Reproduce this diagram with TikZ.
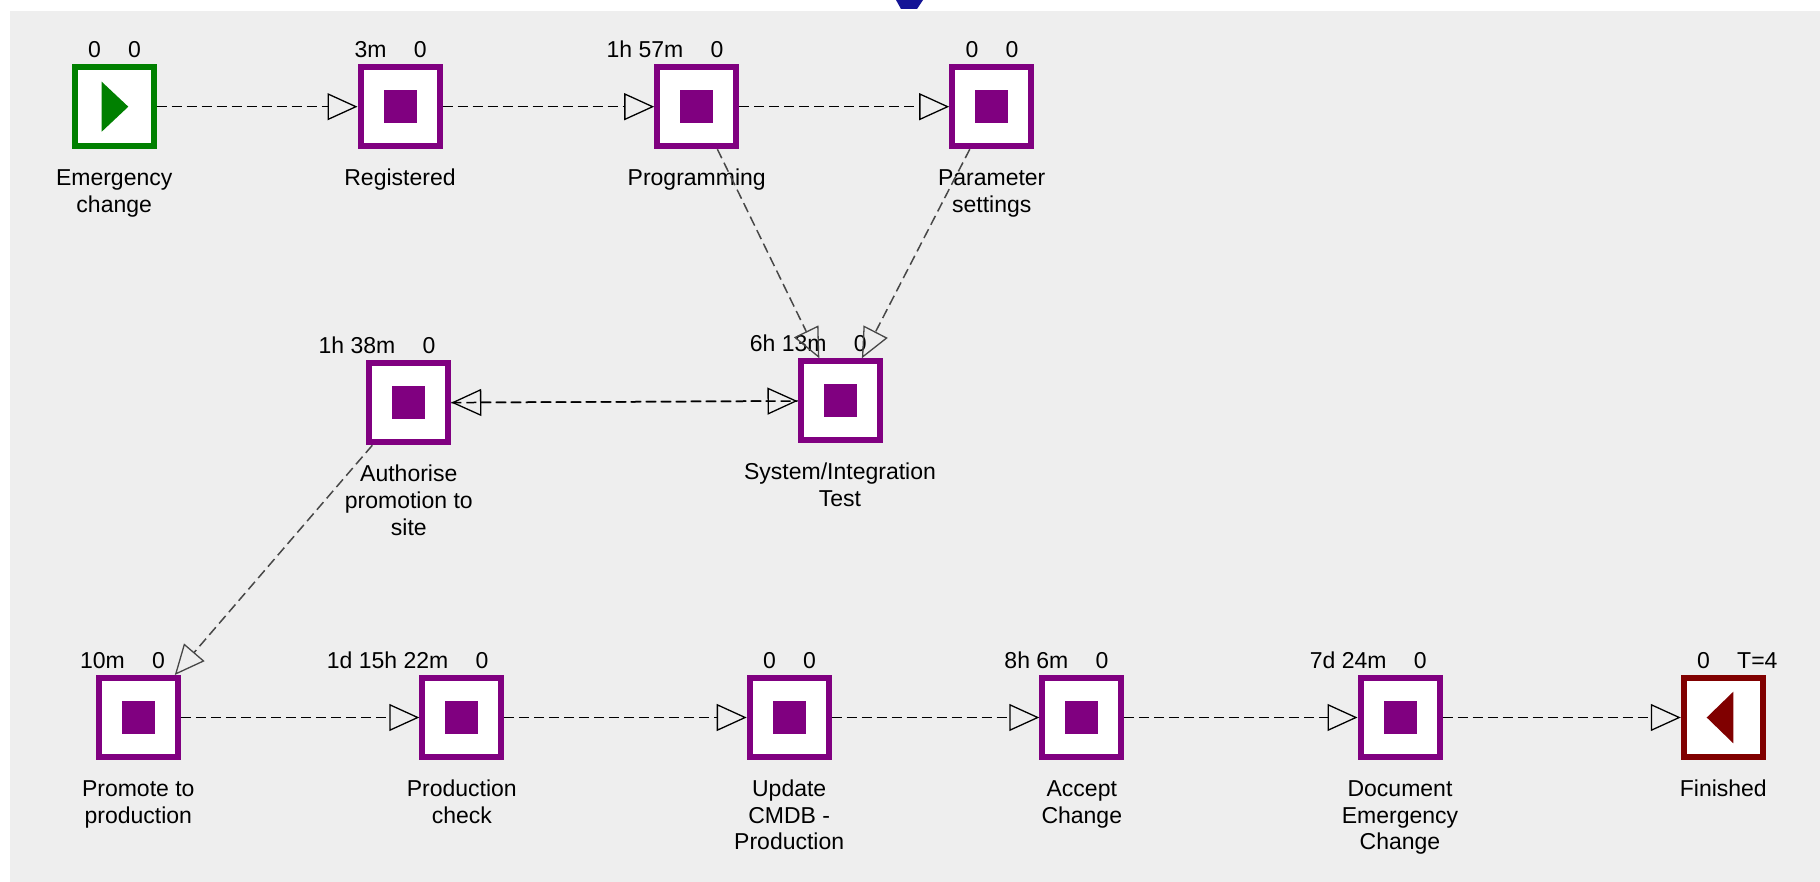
\documentclass[tikz,border=0pt]{standalone}
\usepackage{fontspec}
\setmainfont{Liberation Sans}
\usetikzlibrary{arrows.meta}

\definecolor{canvas}{RGB}{238,238,238}
\definecolor{stepc}{RGB}{128,0,128}
\definecolor{startc}{RGB}{0,128,0}
\definecolor{endc}{RGB}{128,0,0}
\definecolor{titleblue}{RGB}{20,20,150}

% one workflow step: style, name, position, elapsed time, second value, caption
\newcommand\wfnode[6]{%
  \node[#1] (#2) at (#3) {};
  \node[timeL] (#2-l) at ([shift={(-13,-49.5)}]#2.center) {#4};
  \node[timeR] (#2-r) at ([shift={(13.5,-49.5)}]#2.center) {#5};
  \node[caption] (#2-n) at ([shift={(0,60.5)}]#2.center) {\rule{0pt}{9pt}#6};
}

\begin{document}
\begin{tikzpicture}[x=0.5pt,y=-0.5pt,
  stepbox/.style={draw=stepc, fill=white, line width=3pt, minimum size=39.5pt, inner sep=0pt},
  startbox/.style={stepbox, draw=startc},
  endbox/.style={stepbox, draw=endc},
  core/.style={fill=stepc, minimum size=16.5pt, inner sep=0pt},
  lbl/.style={font=\fontsize{11.5}{13.35}\selectfont, inner sep=0pt, text=black},
  timeL/.style={lbl, anchor=base east},
  timeR/.style={lbl, anchor=base west},
  caption/.style={lbl, align=center, anchor=north},
  link/.style={draw=black, line width=0.75pt, dash pattern=on 5pt off 2.5pt,
    -{Triangle[open, length=15pt, width=13.5pt, line width=0.65pt]}},
  slant/.style={link, draw=black!72}
]
% canvas
\useasboundingbox (0,0) rectangle (1820,882);
\fill[white] (0,0) rectangle (1820,882);
\fill[canvas] (10,11) rectangle (1820,882);
\fill[titleblue] (896,0) -- (923,0) -- (917,9) -- (901,9) -- cycle;

% steps
\wfnode{startbox}{em}{114.2,106.7}{0}{0}{Emergency\\change}
\wfnode{stepbox}{reg}{400,106.7}{3m}{0}{Registered}
\wfnode{stepbox}{prog}{696.7,106.7}{1h 57m}{0}{Programming}
\wfnode{stepbox}{par}{991.7,106.7}{0}{0}{Parameter\\settings}
\wfnode{stepbox}{auth}{408.8,402.8}{1h 38m}{0}{Authorise\\promotion to\\site}
\wfnode{stepbox}{sys}{840,400.8}{6h 13m}{0}{System/Integration\\Test}
\wfnode{stepbox}{prom}{138.3,717.5}{10m}{0}{Promote to\\production}
\wfnode{stepbox}{chk}{461.8,717.5}{1d 15h 22m}{0}{Production\\check}
\wfnode{stepbox}{upd}{789.2,717.5}{0}{0}{Update\\CMDB -\\Production}
\wfnode{stepbox}{acc}{1081.8,717.5}{8h 6m}{0}{Accept\\Change}
\wfnode{stepbox}{doc}{1400,717.5}{7d 24m}{0}{Document\\Emergency\\Change}
\wfnode{endbox}{fin}{1723.3,717.5}{0}{T=4}{Finished}

% step markers
\foreach \s in {reg,prog,par,auth,sys,prom,chk,upd,acc,doc}
  \node[core] (\s-c) at (\s) {};
\begin{scope}[shift={(em.center)}]
  \fill[startc] (-12.5,-25) -- (14.1,0) -- (-12.5,25) -- cycle;
\end{scope}
\begin{scope}[shift={(fin.center)}]
  \fill[endc] (10,-25.8) -- (-16.6,0) -- (10,25.8) -- cycle;
\end{scope}

% transitions
\draw[link] (em) -- (reg);
\draw[link] (reg) -- (prog);
\draw[link] (prog) -- (par);
\draw[slant] (prog) -- (sys);
\draw[slant] (par) -- (sys);
\draw[link] (auth) -- (sys);
\draw[link, dash phase=4pt] (sys) -- (auth);
\draw[slant] (auth) -- (prom);
\draw[link] (prom) -- (chk);
\draw[link] (chk) -- (upd);
\draw[link] (upd) -- (acc);
\draw[link] (acc) -- (doc);
\draw[link] (doc) -- (fin);
\end{tikzpicture}
\end{document}
